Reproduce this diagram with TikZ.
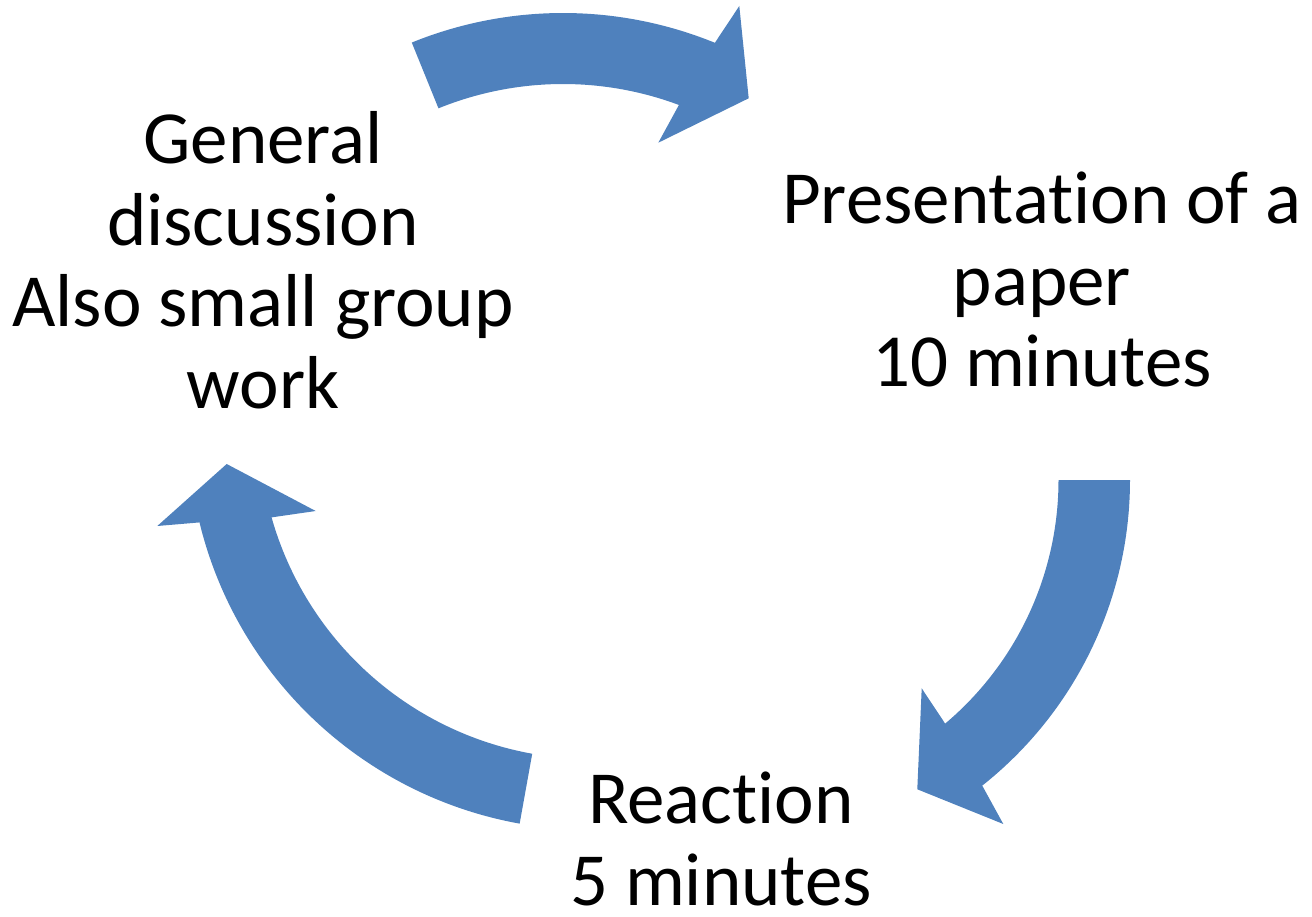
\documentclass[tikz,border=0pt]{standalone}
\usepackage{fontspec}
\setmainfont{Carlito}[Ligatures=NoCommon]
\usetikzlibrary{calc}
\definecolor{arrowblue}{HTML}{4F81BD}
\begin{document}
\begin{tikzpicture}[x=1pt,y=-1pt,
  cyclearrow/.style={fill=arrowblue, draw=none},
  cycletext/.style={align=center, font=\fontsize{75}{81.5}\selectfont, inner sep=0pt, anchor=base}]
\useasboundingbox (0,0) rectangle (1312,917);
\coordinate (c1) at (563,415);
\coordinate (c2) at (740,480);
\coordinate (c3) at (591,427);
% top arrow
\fill[cyclearrow] ($(c1)+(-112.1:402)$) arc[start angle=-112.1, end angle=-67.8, radius=402]
  -- (739.3,6) -- (748.7,98.3) -- (658.3,142.7)
  -- ($(c1)+(-69.5:331)$) arc[start angle=-69.5, end angle=-112.1, radius=331] -- cycle;
% right arrow
\fill[cyclearrow] ($(c2)+(0:390)$) arc[start angle=0, end angle=51.6, radius=390]
  -- (1003.3,824) -- (917.3,789.3) -- (921.7,688.3)
  -- ($(c2)+(49.9:318.5)$) arc[start angle=49.9, end angle=0, radius=318.5] -- cycle;
% left arrow
\fill[cyclearrow] ($(c3)+(100.2:403)$) arc[start angle=100.2, end angle=166.3, radius=403]
  -- (157.3,526) -- (226.7,464) -- (315.7,511)
  -- ($(c3)+(164.2:332)$) arc[start angle=164.2, end angle=100.2, radius=332] -- cycle;
\node[cycletext] (gen) at (263,408.3) {General\\discussion\\Also small group\\work};
\node[cycletext] (pres) at (1042,386.7) {Presentation of a\\paper\\10 minutes};
\node[cycletext] (react) at (721,905) {Reaction\\5 minutes};
\end{tikzpicture}
\end{document}
